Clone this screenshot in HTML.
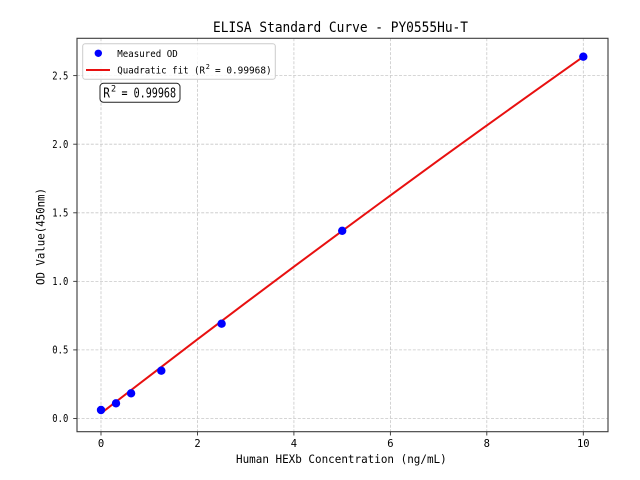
<!DOCTYPE html>
<html><head><meta charset="utf-8"><style>
html,body{margin:0;padding:0;background:#fff;}
svg{display:block;}
text{font-family:"DejaVu Sans Mono","Liberation Mono","WenQuanYi Zen Hei",monospace;fill:#000;}
</style></head><body>
<svg width="640" height="480" viewBox="0 0 640 480" xmlns="http://www.w3.org/2000/svg">
<rect x="0" y="0" width="640" height="480" fill="#fff"/>
<!-- grid -->
<g stroke="#c8c8c8" stroke-width="0.8" stroke-dasharray="3,1.6" fill="none">
<line x1="101" y1="38.3" x2="101" y2="431.7"/>
<line x1="197.5" y1="38.3" x2="197.5" y2="431.7"/>
<line x1="293.9" y1="38.3" x2="293.9" y2="431.7"/>
<line x1="390.4" y1="38.3" x2="390.4" y2="431.7"/>
<line x1="486.8" y1="38.3" x2="486.8" y2="431.7"/>
<line x1="583.3" y1="38.3" x2="583.3" y2="431.7"/>
<line x1="77" y1="418.5" x2="608" y2="418.5"/>
<line x1="77" y1="349.9" x2="608" y2="349.9"/>
<line x1="77" y1="281.35" x2="608" y2="281.35"/>
<line x1="77" y1="212.8" x2="608" y2="212.8"/>
<line x1="77" y1="144.2" x2="608" y2="144.2"/>
<line x1="77" y1="75.6" x2="608" y2="75.6"/>
</g>
<!-- fit line -->
<polyline fill="none" stroke="#e81010" stroke-width="2" stroke-linejoin="round" points="101,413.3 149.23,376.15 197.46,339.3 245.69,302.85 293.92,266.7 342.15,230.9 390.38,195.4 438.61,160.2 486.84,125.4 535.07,90.9 583.3,56.7"/>
<!-- points -->
<g fill="#0000ff">
<circle cx="101" cy="410" r="4.2"/>
<circle cx="116" cy="403.3" r="4.2"/>
<circle cx="131.1" cy="393.3" r="4.2"/>
<circle cx="161.3" cy="370.7" r="4.2"/>
<circle cx="221.6" cy="323.7" r="4.2"/>
<circle cx="342.2" cy="230.8" r="4.2"/>
<circle cx="583.3" cy="56.7" r="4.2"/>
</g>
<!-- spines -->
<rect x="77" y="38.3" width="531" height="393.4" fill="none" stroke="#3a3a3a" stroke-width="1.1"/>
<!-- ticks -->
<g stroke="#333" stroke-width="0.9">
<line x1="101" y1="431.7" x2="101" y2="435.5"/>
<line x1="197.5" y1="431.7" x2="197.5" y2="435.5"/>
<line x1="293.9" y1="431.7" x2="293.9" y2="435.5"/>
<line x1="390.4" y1="431.7" x2="390.4" y2="435.5"/>
<line x1="486.8" y1="431.7" x2="486.8" y2="435.5"/>
<line x1="583.3" y1="431.7" x2="583.3" y2="435.5"/>
<line x1="73.2" y1="418.5" x2="77" y2="418.5"/>
<line x1="73.2" y1="349.9" x2="77" y2="349.9"/>
<line x1="73.2" y1="281.35" x2="77" y2="281.35"/>
<line x1="73.2" y1="212.8" x2="77" y2="212.8"/>
<line x1="73.2" y1="144.2" x2="77" y2="144.2"/>
<line x1="73.2" y1="75.6" x2="77" y2="75.6"/>
</g>
<!-- x tick labels -->
<g font-size="10.5" text-anchor="middle">
<text x="101" y="447">0</text>
<text x="197.5" y="447">2</text>
<text x="293.9" y="447">4</text>
<text x="390.4" y="447">6</text>
<text x="486.8" y="447">8</text>
<text x="583.3" y="447">10</text>
</g>
<!-- y tick labels -->
<g font-size="10.5">
<text x="52.3" y="422.2" textLength="16" lengthAdjust="spacingAndGlyphs">0.0</text>
<text x="52.3" y="353.6" textLength="16" lengthAdjust="spacingAndGlyphs">0.5</text>
<text x="52.3" y="285.05" textLength="16" lengthAdjust="spacingAndGlyphs">1.0</text>
<text x="52.3" y="216.5" textLength="16" lengthAdjust="spacingAndGlyphs">1.5</text>
<text x="52.3" y="147.9" textLength="16" lengthAdjust="spacingAndGlyphs">2.0</text>
<text x="52.3" y="79.3" textLength="16" lengthAdjust="spacingAndGlyphs">2.5</text>
</g>
<!-- title -->
<text x="213" y="31.8" font-size="14.3" textLength="255" lengthAdjust="spacingAndGlyphs">ELISA Standard Curve - PY0555Hu-T</text>
<!-- x label -->
<text x="236" y="463.2" font-size="11.5" textLength="210.7" lengthAdjust="spacingAndGlyphs">Human HEXb Concentration (ng/mL)</text>
<!-- y label -->
<text transform="translate(44.5,285) rotate(-90)" x="0" y="0" font-size="11.5" textLength="97" lengthAdjust="spacingAndGlyphs">OD Value(450nm)</text>
<!-- legend -->
<rect x="82.7" y="43.7" width="192.6" height="35.6" rx="2.5" ry="2.5" fill="#fff" fill-opacity="0.85" stroke="#cccccc" stroke-width="1"/>
<circle cx="98.3" cy="53.3" r="3.7" fill="#0000ff"/>
<line x1="86" y1="70" x2="110" y2="70" stroke="#e81010" stroke-width="2"/>
<text x="117.3" y="56.9" font-size="10" textLength="60.4" lengthAdjust="spacingAndGlyphs">Measured OD</text>
<text x="117.3" y="73.5" font-size="10" textLength="87.7" lengthAdjust="spacingAndGlyphs">Quadratic fit (R</text>
<text x="205.7" y="69" font-size="6.8">2</text>
<text x="215" y="73.5" font-size="10" textLength="56.7" lengthAdjust="spacingAndGlyphs">= 0.99968)</text>
<!-- R2 box -->
<rect x="100" y="83.3" width="80" height="19" rx="3.5" ry="3.5" fill="#fff" stroke="#222" stroke-width="1"/>
<text x="103.3" y="97.5" font-size="13.5" textLength="6.7" lengthAdjust="spacingAndGlyphs">R</text>
<text x="111" y="91.5" font-size="8.5">2</text>
<text x="121.5" y="97.5" font-size="13.5" textLength="54.5" lengthAdjust="spacingAndGlyphs">= 0.99968</text>
</svg>
</body></html>
